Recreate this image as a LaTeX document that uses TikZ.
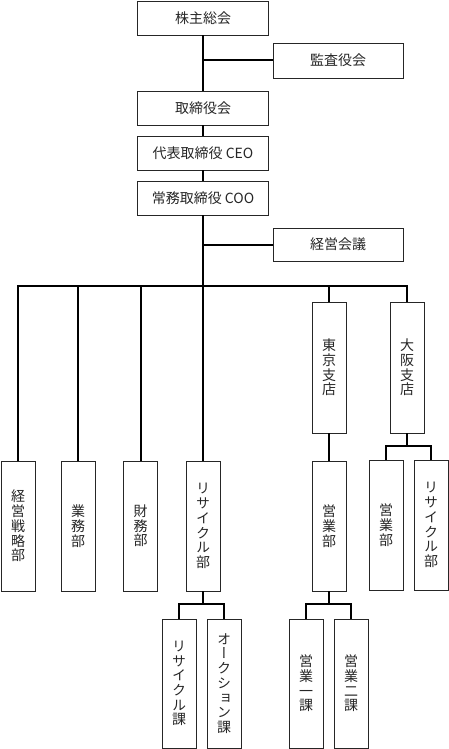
\documentclass[tikz,border=0pt]{standalone}
\usepackage{fontspec}
\setmainfont{Noto Sans CJK JP}
\newfontfamily\tatefont[RawFeature=+vert]{Noto Sans CJK JP}
\usetikzlibrary{positioning}

\begin{document}
\begin{tikzpicture}[x=1pt, y=-1pt,
    box/.style={draw=black!85, line width=0.9pt, fill=white, inner sep=0pt, text=black!85},
    hbox/.style={box, minimum width=131pt, minimum height=34pt, font=\fontsize{14}{16}\selectfont},
    vbox/.style={box, minimum width=34pt, minimum height=130pt, align=center,
        font=\tatefont\fontsize{14}{14.7}\selectfont},
    link/.style={line width=2pt}]
    \useasboundingbox (0,0) rectangle (448,749);
    % Kinh doanh chính
    \node[hbox] (kabunushi) at (203,18) {株主総会};
    \node[hbox, minimum width=130pt, minimum height=35pt] (kansa) at (338,60.5) {監査役会};
    \node[hbox] (torishimari) at (203,108) {取締役会};
    \node[hbox] (ceo) at (203,153) {代表取締役 CEO};
    \node[hbox] (coo) at (203,198) {常務取締役 COO};
    \node[hbox, minimum width=130pt, minimum height=33pt] (keiei) at (338,244.5) {経営会議};
    \coordinate (bus) at (203,286);
    % Chi nhánh
    \node[vbox, minimum height=131pt] (tokyo) at (329,367.5) {東\\京\\支\\店};
    \node[vbox, minimum height=131pt] (osaka) at (407,367.5) {大\\阪\\支\\店};
    % Các bộ phận
    \node[vbox] (senryaku) at (18,526) {経\\営\\戦\\略\\部};
    \node[vbox] (gyomu) at (78,526) {業\\務\\部};
    \node[vbox] (zaimu) at (140.5,526) {財\\務\\部};
    \node[vbox] (recycle) at (203,526) {リ\\サ\\イ\\ク\\ル\\部};
    \node[vbox] (eigyoT) at (329,526) {営\\業\\部};
    \node[vbox] (eigyoO) at (386,525) {営\\業\\部};
    \node[vbox] (recycleO) at (431,525) {リ\\サ\\イ\\ク\\ル\\部};
    % Các phòng
    \node[vbox, minimum height=129pt] (ka1) at (179,683.5) {リ\\サ\\イ\\ク\\ル\\課};
    \node[vbox, minimum height=129pt] (ka2) at (224,683.5) {オ\\ー\\ク\\シ\\ョ\\ン\\課};
    \node[vbox, minimum height=129pt] (ka3) at (306,683.5) {営\\業\\一\\課};
    \node[vbox, minimum height=129pt] (ka4) at (351,683.5) {営\\業\\二\\課};
    % Đường nối
    \draw[link] (kabunushi) -- (torishimari);
    \draw[link] (kansa.west) -- (kansa.west -| kabunushi.south);
    \draw[link] (torishimari) -- (ceo);
    \draw[link] (ceo) -- (coo);
    \draw[link] (coo.south) -- (recycle.north);
    \draw[link] (keiei.west) -- (keiei.west -| coo.south);
    \foreach \n in {senryaku, gyomu, zaimu, tokyo, osaka}
        \draw[link] (\n.north) |- (bus);
    \draw[link] (tokyo) -- (eigyoT);
    \coordinate (osakabus) at (407,446);
    \draw[link] (osaka.south) -- (osakabus);
    \draw[link] (eigyoO.north) |- (osakabus) -| (recycleO.north);
    \coordinate (recyclebus) at (203,604);
    \draw[link] (recycle.south) -- (recyclebus);
    \draw[link] (ka1.north) |- (recyclebus) -| (ka2.north);
    \coordinate (eigyobus) at (329,604);
    \draw[link] (eigyoT.south) -- (eigyobus);
    \draw[link] (ka3.north) |- (eigyobus) -| (ka4.north);
\end{tikzpicture}
\end{document}
